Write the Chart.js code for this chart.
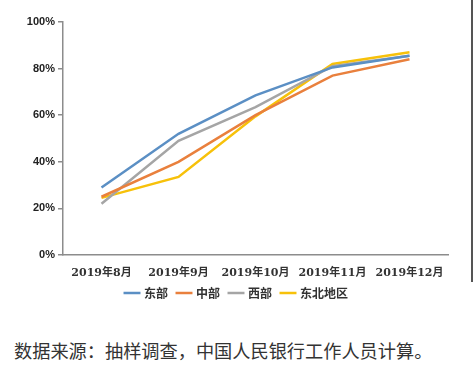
<!DOCTYPE html>
<html>
<head>
<meta charset="utf-8">
<script src="https://cdn.jsdelivr.net/npm/chart.js@4"></script>
<style>
  body { margin: 0; background: #fff; }
  #wrap { position: relative; width: 474px; height: 366px; overflow: hidden; }
  #zone { position: absolute; left: 0; top: 0; width: 474px; height: 309px; }
  #bord { position: absolute; left: 471px; top: 0; width: 2px; height: 282px; background: #555; }
  #source {
    position: absolute; left: 14px; top: 337px;
    font-family: "Noto Sans CJK SC", sans-serif; font-size: 18.2px; color: #333;
    white-space: nowrap;
  }
</style>
</head>
<body>
<div id="wrap">
  <div id="zone"><canvas id="graph"></canvas></div>
  <div id="bord"></div>
  <div id="source">数据来源：抽样调查，中国人民银行工作人员计算。</div>
</div>
<script>
// mois
const mois = ["2019年8月", "2019年9月", "2019年10月", "2019年11月", "2019年12月"];

// séries (%)
const est = [29, 52, 68.5, 80.5, 85.5];
const centre = [25, 40, 60, 77, 84];
const ouest = [22, 49, 63.5, 81, 85.5];
const nordEst = [24.5, 33.5, 59.5, 82, 87];

const regions = ["东部", "中部", "西部", "东北地区"];
const couleurs = ["#5b8fc4", "#e9803d", "#a5a5a5", "#f7c10a"];
const valeurs = [est, centre, ouest, nordEst];

const axe = "#8c8c8c";

new Chart(document.getElementById("graph"), {
    type: "line",
    data: {
        labels: mois,
        datasets: regions.map((nom, i) => ({
            label: nom,
            data: valeurs[i],
            borderColor: couleurs[i],
            backgroundColor: couleurs[i],
            borderWidth: 2.5,
            pointRadius: 0,
            tension: 0
        }))
    },
    options: {
        responsive: true,
        maintainAspectRatio: false,
        animation: false,
        layout: { padding: { left: 0, right: 0, top: 22, bottom: 0 } },
        plugins: {
            tooltip: { enabled: false },
            legend: {
                position: "bottom",
                labels: {
                    usePointStyle: true,
                    pointStyle: "line",
                    boxWidth: 12,
                    padding: 10,
                    color: "#333",
                    font: { family: "Noto Sans CJK SC", size: 12, weight: "bold" }
                }
            }
        },
        scales: {
            x: {
                offset: true,
                grid: { display: false },
                border: { color: axe, width: 1.5 },
                ticks: {
                    color: "#333",
                    maxRotation: 0,
                    padding: 4,
                    font: { family: "DejaVu Serif, Noto Sans CJK SC", size: 11, weight: "bold" }
                },
                afterFit: (s) => { s.height = 22; }
            },
            y: {
                min: 0,
                max: 100,
                grid: { drawOnChartArea: false, tickLength: 5, color: axe, lineWidth: 1.5 },
                border: { color: axe, width: 1.5 },
                ticks: {
                    stepSize: 20,
                    color: "#222",
                    padding: 3,
                    font: { family: "Liberation Sans", size: 11, weight: "bold" },
                    callback: (v) => v + "%"
                },
                afterFit: (s) => { s.width = 63; }
            },
            // marge droite invisible
            marge: {
                position: "right",
                display: true,
                grid: { display: false },
                border: { display: false },
                ticks: { display: false },
                afterFit: (s) => { s.width = 26; }
            }
        }
    }
});
</script>
</body>
</html>
